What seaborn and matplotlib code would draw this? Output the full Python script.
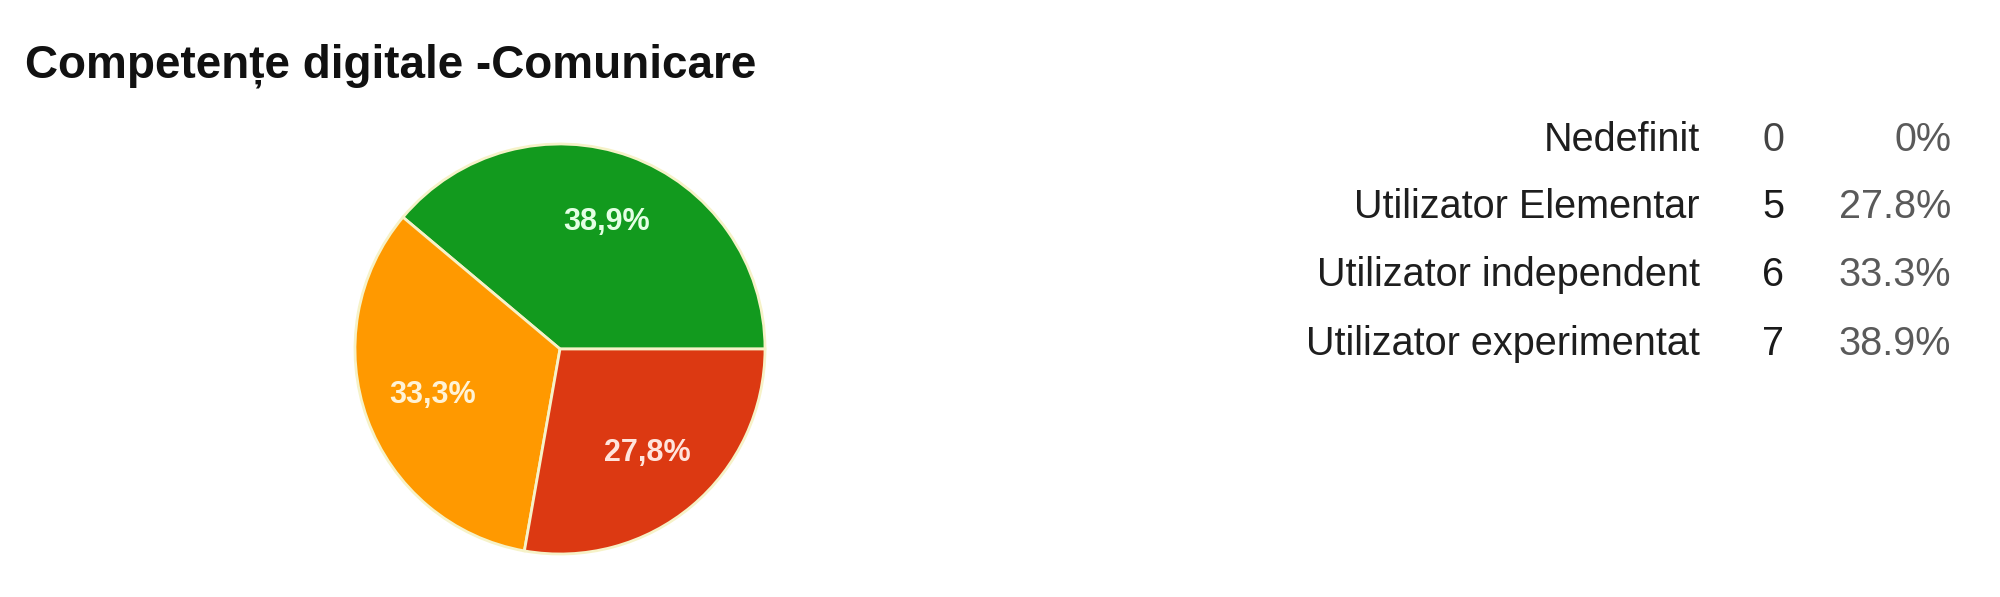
import matplotlib
matplotlib.use("Agg")
import matplotlib.pyplot as plt
import seaborn as sns

# --- Daten ---
categories = ["Nedefinit", "Utilizator Elementar", "Utilizator independent", "Utilizator experimentat"]
counts = [0, 5, 6, 7]
slice_colors = {"Utilizator Elementar": "#dc3912",
                "Utilizator independent": "#ff9900",
                "Utilizator experimentat": "#129a1e"}
label_colors = {"Utilizator Elementar": "#ffe4dc",
                "Utilizator independent": "#fff3d6",
                "Utilizator experimentat": "#e4ffe4"}
title = "Competențe digitale -Comunicare"

sns.set_theme(style="white")
plt.rcParams["font.family"] = ["Liberation Sans", "DejaVu Sans"]

W, H = 2000, 597
fig = plt.figure(figsize=(W / 100, H / 100), dpi=100)
fig.patch.set_facecolor("white")

# --- Pie (gegen den Uhrzeigersinn ab 0°) ---
cx, cy, r = 560, 349, 205
ax = fig.add_axes([(cx - r) / W, (H - cy - r) / H, 2 * r / W, 2 * r / H])
pie_cats = [c for c, n in zip(categories, counts) if n > 0][::-1]
pie_vals = [counts[categories.index(c)] for c in pie_cats]
total = sum(counts)
wedges, _, autotexts = ax.pie(
    pie_vals,
    colors=[slice_colors[c] for c in pie_cats],
    startangle=0,
    counterclock=True,
    autopct=lambda p: f"{p:.1f}%".replace(".", ","),
    pctdistance=0.66,
    radius=1.0,
    wedgeprops=dict(edgecolor="#f6f2c8", linewidth=2),
    textprops=dict(color="white", fontsize=22, fontweight="bold"),
)
for t, c in zip(autotexts, pie_cats):
    t.set_color(label_colors[c])
ax.set_xlim(-1.0, 1.0)
ax.set_ylim(-1.0, 1.0)
ax.axis("off")

# --- Titel ---
fig.text(25 / W, 1 - 78 / H, title, fontsize=33, fontweight="bold",
         color="#111111", ha="left", va="baseline")

# --- Tabelle rechts ---
row_base = [151, 218, 286, 355]
for c, n, y in zip(categories, counts, row_base):
    pct = f"{100 * n / total:.1f}%" if n else "0%"
    fy = 1 - y / H
    fig.text(1700 / W, fy, c, fontsize=28.5, color="#1e1e1e", ha="right", va="baseline")
    fig.text(1773 / W, fy, str(n), fontsize=28.5, color="#1a1a1a" if n else "#444444",
             ha="center", va="baseline")
    fig.text(1951 / W, fy, pct, fontsize=28.5, color="#5a5a5a", ha="right", va="baseline")

fig.savefig("out.png", dpi=100, facecolor="white")
